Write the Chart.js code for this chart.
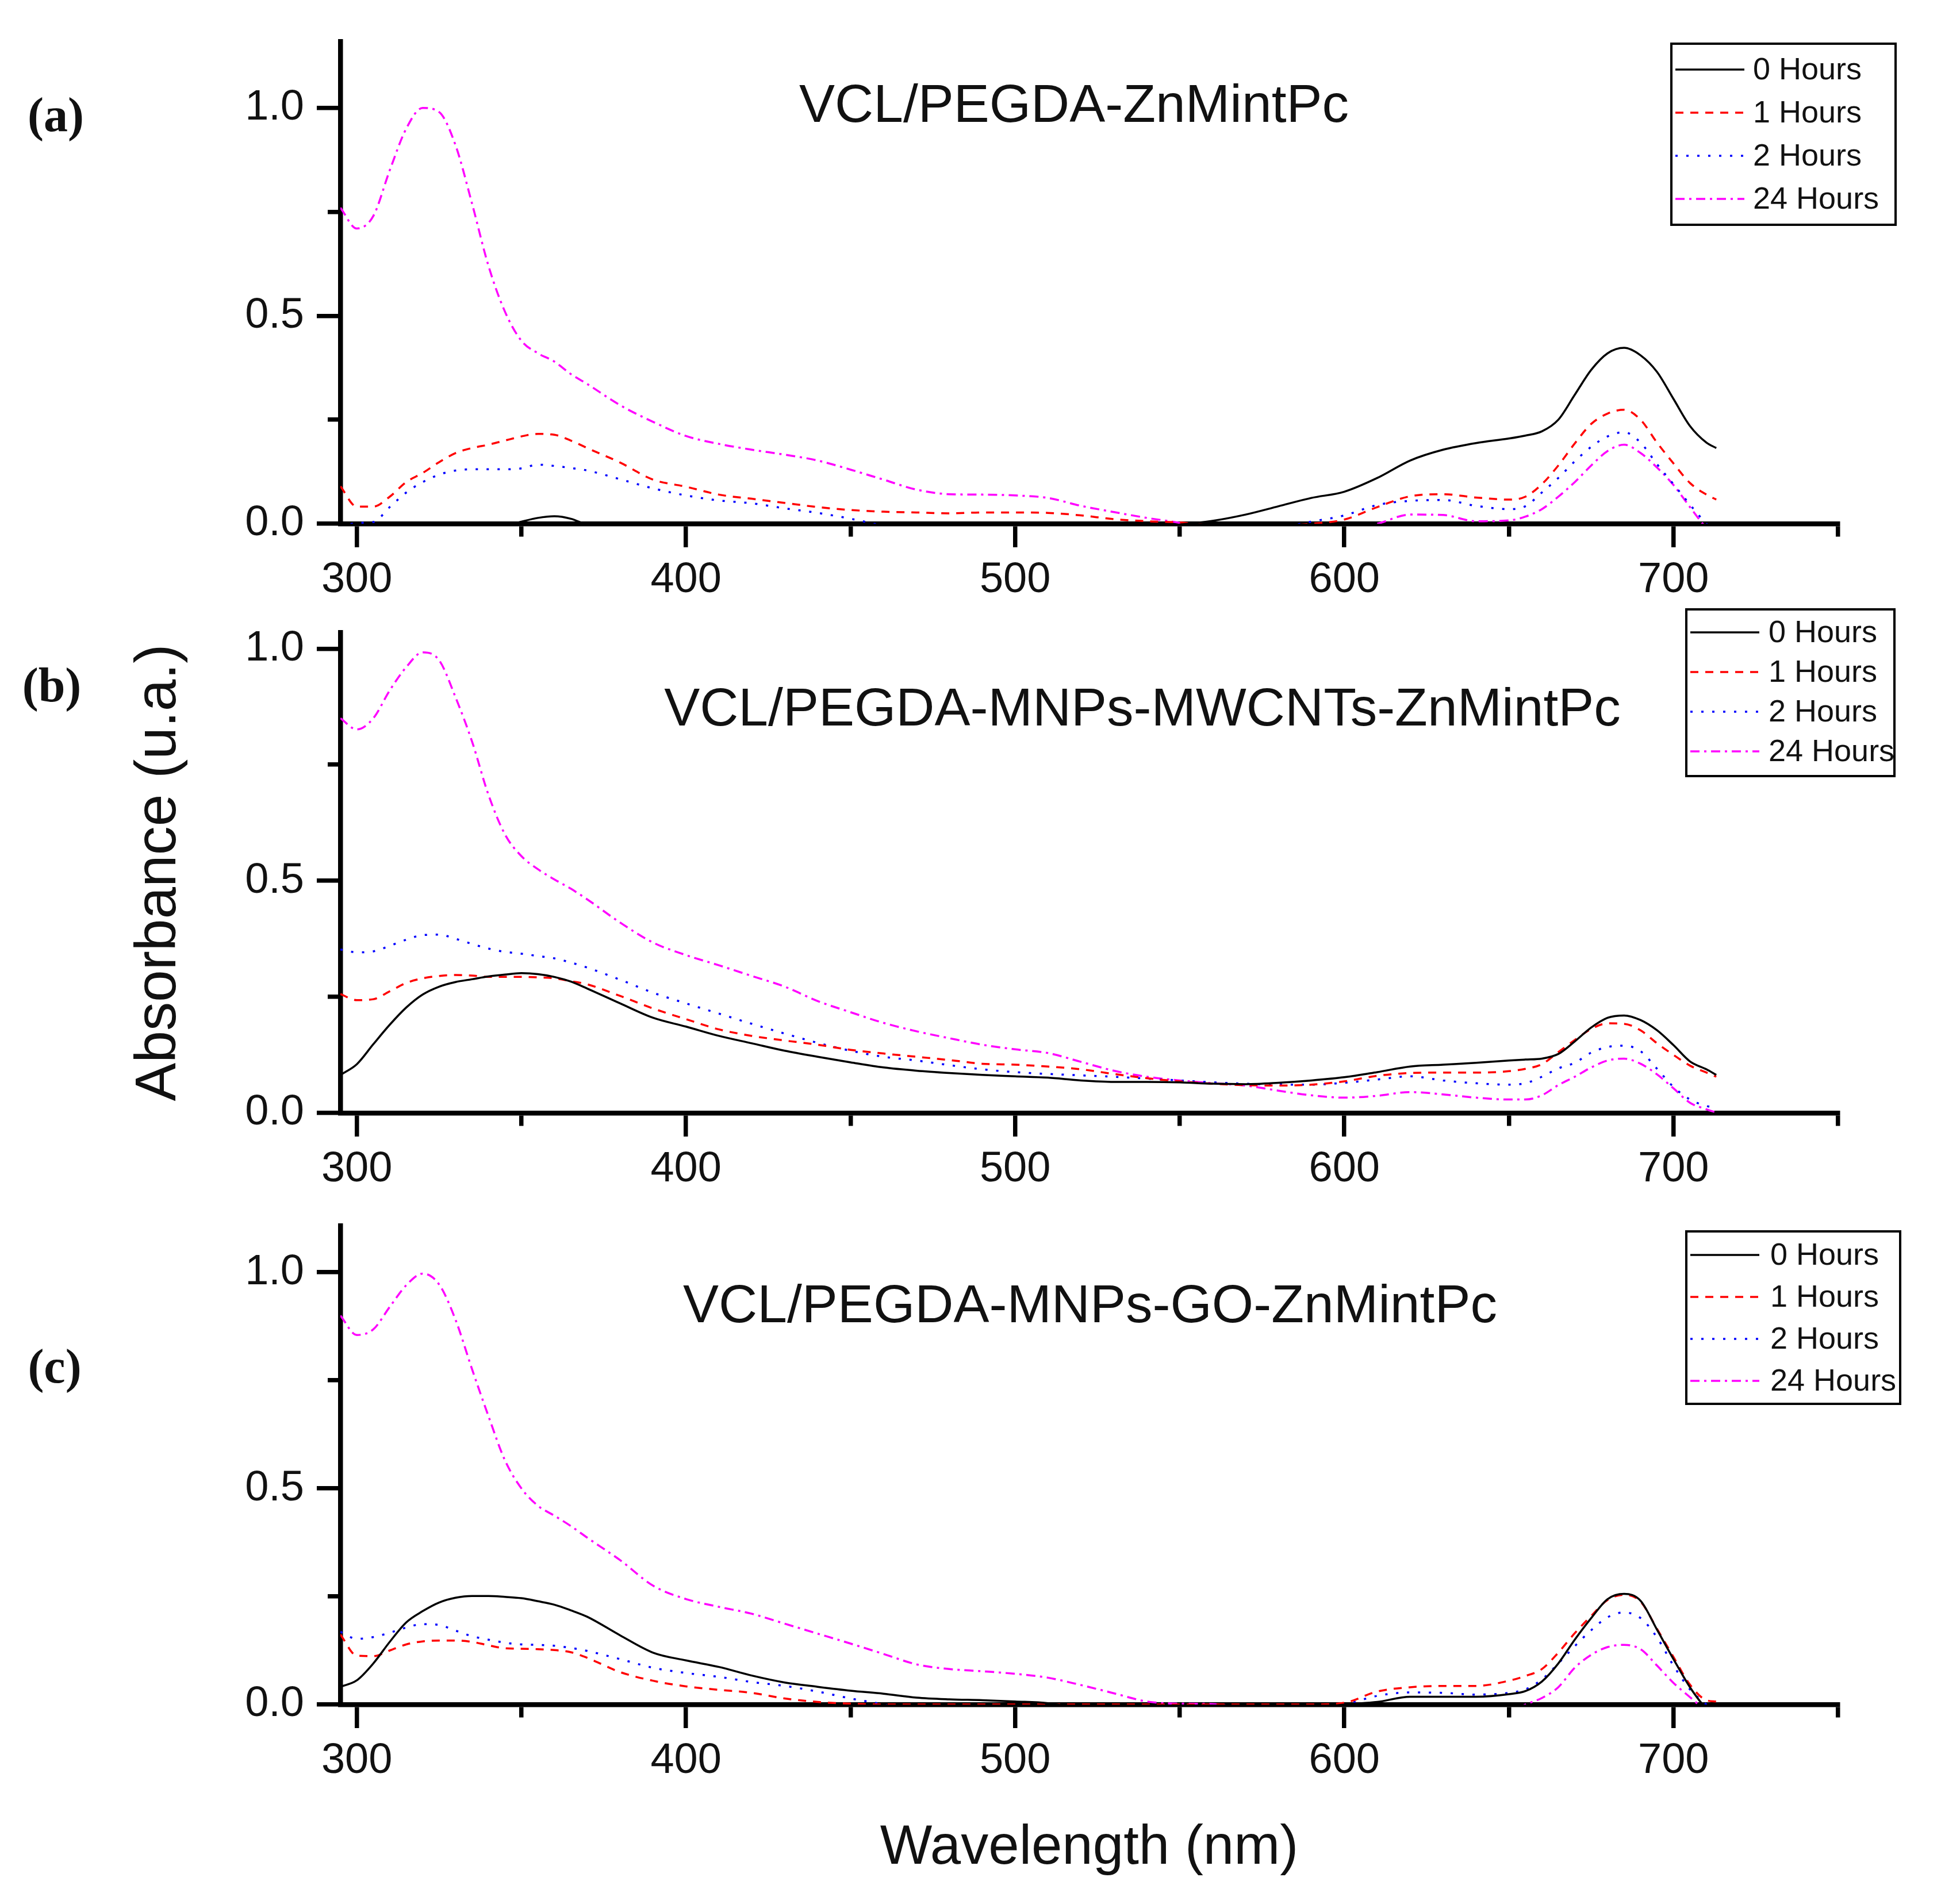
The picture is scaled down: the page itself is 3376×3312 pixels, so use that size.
<!DOCTYPE html>
<html>
<head>
<meta charset="utf-8">
<title>Absorbance spectra</title>
<script src="https://cdn.jsdelivr.net/npm/chart.js@4.4.1/dist/chart.umd.min.js"></script>
<style>
  html, body { margin: 0; padding: 0; background: #fff; }
  #page { position: relative; width: 3376px; height: 3312px; background: #fff; overflow: hidden; }
  #page canvas { position: absolute; left: 0; }
</style>
</head>
<body>
<div id="page">
  <canvas id="chartA" width="3376" height="1045" style="top:0px;width:3376px;height:1045px"></canvas>
  <canvas id="chartB" width="3376" height="1130" style="top:1000px;width:3376px;height:1130px"></canvas>
  <canvas id="chartC" width="3376" height="1272" style="top:2040px;width:3376px;height:1272px"></canvas>
</div>
<script>
// wavelength grid (nm) shared by every series
const wavelength = [295, 300, 305, 310, 315, 320, 325, 330, 335, 340, 345, 350, 355, 360, 365, 370,
  380, 390, 400, 410, 420, 430, 440, 450, 460, 470, 480, 490, 500, 510, 520, 530, 540, 550, 560, 570, 580, 590, 600, 610, 620, 630, 640, 650,
  655, 660, 665, 670, 675, 680, 685, 690, 695, 700, 705, 710, 713];

const seriesLabels = ['0 Hours', '1 Hours', '2 Hours', '24 Hours'];
const xTickValues = [300, 350, 400, 450, 500, 550, 600, 650, 700, 750];
const yTickValues = [0, 0.25, 0.5, 0.75, 1.0];

// (a) VCL/PEGDA-ZnMintPc
const a0h = [-0.05, -0.04, -0.035, -0.03, -0.03, -0.025, -0.02, -0.02, -0.015, -0.01, -0.005, 0.005, 0.014, 0.018, 0.012, -0.003,
  -0.02, -0.02, -0.02, -0.02, -0.02, -0.02, -0.02, -0.02, -0.02, -0.02, -0.02, -0.02, -0.02, -0.02, -0.02, -0.015, -0.008, -0.002, 0.007, 0.022, 0.042, 0.062, 0.077, 0.11, 0.152, 0.178, 0.194, 0.205,
  0.212, 0.222, 0.25, 0.31, 0.37, 0.41, 0.423, 0.405, 0.365, 0.3, 0.235, 0.195, 0.182];
const a1h = [0.09, 0.041, 0.041, 0.065, 0.10, 0.122, 0.148, 0.17, 0.182, 0.19, 0.2, 0.21, 0.216, 0.214, 0.2, 0.182,
  0.147, 0.106, 0.089, 0.07, 0.06, 0.05, 0.04, 0.033, 0.029, 0.027, 0.025, 0.027, 0.027, 0.026, 0.02, 0.011, 0.006, 0.003, -0.004, -0.005, -0.005, 0.0, 0.01, 0.04, 0.066, 0.071, 0.063, 0.058,
  0.065, 0.095, 0.14, 0.193, 0.24, 0.265, 0.274, 0.25, 0.195, 0.145, 0.098, 0.07, 0.058];
const a2h = [-0.01, 0.002, 0.004, 0.04, 0.075, 0.1, 0.118, 0.128, 0.131, 0.131, 0.131, 0.133, 0.142, 0.139, 0.134, 0.128,
  0.107, 0.085, 0.068, 0.056, 0.049, 0.037, 0.026, 0.012, -0.005, -0.02, -0.02, -0.02, -0.02, -0.02, -0.02, -0.02, -0.02, -0.02, -0.02, -0.02, -0.01, 0.005, 0.02, 0.045, 0.055, 0.057, 0.043, 0.035,
  0.042, 0.075, 0.11, 0.15, 0.185, 0.21, 0.22, 0.195, 0.143, 0.095, 0.046, 0.0, -0.02];
const a24h = [0.76, 0.71, 0.74, 0.85, 0.95, 1.0, 0.99, 0.91, 0.77, 0.62, 0.51, 0.44, 0.41, 0.39, 0.36, 0.336,
  0.285, 0.245, 0.211, 0.192, 0.178, 0.166, 0.152, 0.13, 0.106, 0.082, 0.071, 0.07, 0.068, 0.062, 0.043, 0.028, 0.014, 0.002, -0.015, -0.02, -0.02, -0.02, -0.015, 0.0, 0.022, 0.021, 0.006, 0.008,
  0.017, 0.035, 0.065, 0.10, 0.14, 0.175, 0.19, 0.17, 0.135, 0.093, 0.04, -0.01, -0.03];

// (b) VCL/PEGDA-MNPs-MWCNTs-ZnMintPc
const b0h = [0.082, 0.105, 0.148, 0.19, 0.227, 0.255, 0.272, 0.282, 0.288, 0.294, 0.298, 0.301, 0.299, 0.293, 0.283, 0.268,
  0.236, 0.205, 0.186, 0.166, 0.15, 0.134, 0.121, 0.109, 0.098, 0.091, 0.086, 0.082, 0.079, 0.076, 0.07, 0.067, 0.067, 0.066, 0.063, 0.062, 0.065, 0.07, 0.077, 0.088, 0.1, 0.104, 0.108, 0.113,
  0.115, 0.117, 0.127, 0.154, 0.184, 0.205, 0.21, 0.2, 0.178, 0.146, 0.111, 0.094, 0.082];
const b1h = [0.256, 0.243, 0.245, 0.262, 0.28, 0.29, 0.295, 0.297, 0.296, 0.293, 0.293, 0.293, 0.292, 0.29, 0.284, 0.277,
  0.252, 0.225, 0.202, 0.18, 0.166, 0.156, 0.147, 0.136, 0.128, 0.121, 0.114, 0.106, 0.104, 0.1, 0.094, 0.084, 0.075, 0.068, 0.063, 0.06, 0.059, 0.061, 0.068, 0.08, 0.086, 0.087, 0.087, 0.09,
  0.095, 0.105, 0.131, 0.157, 0.181, 0.193, 0.192, 0.178, 0.15, 0.125, 0.102, 0.087, 0.078];
const b2h = [0.352, 0.346, 0.348, 0.36, 0.373, 0.383, 0.384, 0.375, 0.364, 0.354, 0.347, 0.343, 0.338, 0.333, 0.324, 0.313,
  0.287, 0.259, 0.236, 0.214, 0.192, 0.171, 0.151, 0.134, 0.121, 0.113, 0.103, 0.094, 0.088, 0.084, 0.081, 0.078, 0.074, 0.07, 0.066, 0.063, 0.061, 0.061, 0.065, 0.072, 0.079, 0.07, 0.064, 0.061,
  0.064, 0.078, 0.096, 0.108, 0.13, 0.142, 0.145, 0.133, 0.095, 0.056, 0.029, 0.015, 0.011];
const b24h = [0.85, 0.826, 0.85, 0.91, 0.96, 0.992, 0.975, 0.895, 0.8, 0.685, 0.6, 0.553, 0.525, 0.503, 0.483, 0.46,
  0.41, 0.367, 0.34, 0.318, 0.295, 0.272, 0.241, 0.217, 0.194, 0.176, 0.161, 0.147, 0.137, 0.129, 0.11, 0.091, 0.078, 0.07, 0.064, 0.059, 0.048, 0.038, 0.033, 0.037, 0.045, 0.04, 0.033, 0.029,
  0.029, 0.038, 0.06, 0.078, 0.098, 0.113, 0.117, 0.106, 0.083, 0.053, 0.022, 0.008, 0.001];

// (c) VCL/PEGDA-MNPs-GO-ZnMintPc
const c0h = [0.041, 0.056, 0.095, 0.145, 0.19, 0.216, 0.236, 0.247, 0.251, 0.251, 0.249, 0.246, 0.239, 0.231, 0.218, 0.203,
  0.16, 0.12, 0.102, 0.087, 0.067, 0.051, 0.041, 0.032, 0.025, 0.016, 0.012, 0.01, 0.007, 0.003, -0.01, -0.02, -0.02, -0.02, -0.02, -0.02, -0.02, -0.01, 0.0, 0.006, 0.018, 0.018, 0.018, 0.024,
  0.031, 0.053, 0.095, 0.15, 0.2, 0.244, 0.256, 0.24, 0.173, 0.105, 0.04, -0.01, -0.03];
const c1h = [0.162, 0.113, 0.112, 0.125, 0.139, 0.146, 0.148, 0.148, 0.145, 0.137, 0.13, 0.129, 0.128, 0.126, 0.121, 0.108,
  0.075, 0.055, 0.042, 0.034, 0.027, 0.014, 0.006, 0.002, 0.0, 0.0, 0.0, 0.0, 0.0, 0.0, 0.0, 0.0, 0.0, 0.0, 0.0, 0.0, 0.0, 0.0, 0.004, 0.03, 0.04, 0.043, 0.043, 0.055,
  0.066, 0.082, 0.12, 0.165, 0.205, 0.242, 0.254, 0.238, 0.175, 0.11, 0.046, 0.01, 0.007];
const c2h = [0.168, 0.152, 0.156, 0.166, 0.178, 0.186, 0.184, 0.171, 0.158, 0.15, 0.143, 0.139, 0.138, 0.136, 0.131, 0.124,
  0.105, 0.085, 0.073, 0.064, 0.052, 0.043, 0.03, 0.014, 0.0, -0.02, -0.02, -0.02, -0.02, -0.02, -0.02, -0.02, -0.02, -0.02, -0.02, -0.02, -0.02, -0.01, 0.0, 0.02, 0.028, 0.027, 0.023, 0.027,
  0.035, 0.058, 0.095, 0.135, 0.172, 0.202, 0.213, 0.2, 0.155, 0.09, 0.035, 0.0, -0.02];
const c24h = [0.9, 0.855, 0.868, 0.92, 0.97, 0.997, 0.972, 0.89, 0.776, 0.667, 0.565, 0.5, 0.46, 0.437, 0.413, 0.386,
  0.334, 0.275, 0.244, 0.226, 0.21, 0.187, 0.164, 0.141, 0.117, 0.093, 0.082, 0.077, 0.071, 0.062, 0.045, 0.026, 0.007, 0.002, 0.001, -0.01, -0.02, -0.02, -0.02, -0.02, -0.02, -0.02, -0.02, -0.02,
  0.0, 0.015, 0.04, 0.085, 0.115, 0.133, 0.138, 0.128, 0.09, 0.05, 0.017, -0.015, -0.03];

// line look per series (Origin-like)
const lineStyles = [
  { color: '#000000', dash: [] },
  { color: '#ff0000', dash: [14, 12] },
  { color: '#0000ff', dash: [4, 15] },
  { color: '#ff00ff', dash: [16, 8, 4, 8] }
];

const SANS = '"Liberation Sans", Arial, sans-serif';
const CANVAS_W = 3376;
const PLOT_LEFT = 592;
const PLOT_RIGHT = 3197;

// page layout of the three panels (page pixels); canvases overlap, they are transparent
const panels = [
  {
    id: 'chartA', top: 0, height: 1045, plotTop: 72, plotBottom: 911, yMax: 1.16,
    title: 'VCL/PEGDA-ZnMintPc', titleX: 1868, titleY: 212,
    tag: '(a)', tagX: 97, tagY: 228,
    legend: { x: 2907, y: 76, w: 390, h: 315, first: 45, gap: 75, textX: 142 },
    values: [a0h, a1h, a2h, a24h]
  },
  {
    id: 'chartB', top: 1000, height: 1130, plotTop: 1100, plotBottom: 1936, yMax: 1.035,
    title: 'VCL/PEGDA-MNPs-MWCNTs-ZnMintPc', titleX: 1987, titleY: 1262,
    tag: '(b)', tagX: 90, tagY: 1220,
    legend: { x: 2933, y: 1060, w: 362, h: 290, first: 40, gap: 69, textX: 143 },
    values: [b0h, b1h, b2h, b24h],
    yTitle: 'Absorbance (u.a.)'
  },
  {
    id: 'chartC', top: 2040, height: 1272, plotTop: 2132, plotBottom: 2965, yMax: 1.108,
    title: 'VCL/PEGDA-MNPs-GO-ZnMintPc', titleX: 1896, titleY: 2300,
    tag: '(c)', tagX: 95, tagY: 2405,
    legend: { x: 2933, y: 2142, w: 372, h: 300, first: 41, gap: 73, textX: 146 },
    values: [c0h, c1h, c2h, c24h],
    xTitle: 'Wavelength (nm)'
  }
];

// title inside the frame, panel letter and the boxed legend
const panelDecor = {
  id: 'panelDecor',
  afterDraw(chart, args, opts) {
    const ctx = chart.ctx;
    const dy = opts.offset;
    ctx.save();
    ctx.fillStyle = '#111';
    ctx.textAlign = 'center';
    ctx.textBaseline = 'alphabetic';
    ctx.font = '93px ' + SANS;
    ctx.fillText(opts.title, opts.titleX, opts.titleY - dy);

    ctx.font = 'bold 84px "Liberation Serif", "Times New Roman", serif';
    ctx.fillText(opts.tag, opts.tagX, opts.tagY - dy);

    const L = opts.legend;
    ctx.setLineDash([]);
    ctx.lineWidth = 4;
    ctx.strokeStyle = '#000';
    ctx.strokeRect(L.x, L.y - dy, L.w, L.h);
    chart.data.datasets.forEach((ds, i) => {
      const y = L.y - dy + L.first + i * L.gap;
      ctx.setLineDash(ds.borderDash);
      ctx.strokeStyle = ds.borderColor;
      ctx.lineWidth = ds.borderWidth;
      ctx.beginPath();
      ctx.moveTo(L.x + 7, y);
      ctx.lineTo(L.x + 127, y);
      ctx.stroke();
      ctx.setLineDash([]);
      ctx.fillStyle = '#111';
      ctx.textAlign = 'left';
      ctx.textBaseline = 'middle';
      ctx.font = '54px ' + SANS;
      ctx.fillText(ds.label, L.x + L.textX, y + 2);
    });
    ctx.restore();
  }
};

function isMultiple(v, step) {
  return Math.abs(v / step - Math.round(v / step)) < 1e-6;
}

function buildChart(p) {
  const datasets = p.values.map((vals, i) => ({
    label: seriesLabels[i],
    data: wavelength.map((w, k) => ({ x: w, y: vals[k] })),
    borderColor: lineStyles[i].color,
    borderDash: lineStyles[i].dash,
    borderWidth: 3.5,
    pointRadius: 0,
    fill: false,
    cubicInterpolationMode: 'monotone',
    clip: 0
  }));

  const xHeight = p.top + p.height - p.plotBottom;

  return new Chart(document.getElementById(p.id), {
    type: 'line',
    data: { datasets },
    plugins: [panelDecor],
    options: {
      responsive: false,
      animation: false,
      devicePixelRatio: 1,
      events: [],
      layout: { padding: { top: p.plotTop - p.top, right: CANVAS_W - PLOT_RIGHT, bottom: 0, left: 0 } },
      plugins: {
        legend: { display: false },
        tooltip: { enabled: false },
        panelDecor: {
          offset: p.top, title: p.title, titleX: p.titleX, titleY: p.titleY,
          tag: p.tag, tagX: p.tagX, tagY: p.tagY, legend: p.legend
        }
      },
      scales: {
        x: {
          type: 'linear',
          min: 295,
          max: 750,
          afterBuildTicks: s => { s.ticks = xTickValues.map(v => ({ value: v })); },
          afterFit: s => { s.height = xHeight; },
          border: { display: true, color: '#000', width: 8.5 },
          grid: {
            drawOnChartArea: false,
            drawTicks: true,
            tickLength: 41,
            lineWidth: 7.5,
            tickWidth: 7.5,
            tickColor: '#000',
            tickBorderDash: c => (c.tick && isMultiple(c.tick.value, 100)) ? [] : [18, 200]
          },
          ticks: {
            autoSkip: false,
            maxRotation: 0,
            minRotation: 0,
            padding: 13,
            color: '#111',
            font: { family: SANS, size: 74 },
            callback: v => isMultiple(v, 100) ? String(v) : ''
          },
          title: {
            display: !!p.xTitle,
            text: p.xTitle || '',
            color: '#111',
            font: { family: SANS, size: 96 },
            padding: { top: 0, bottom: 39 }
          }
        },
        y: {
          type: 'linear',
          min: 0,
          max: p.yMax,
          afterBuildTicks: s => { s.ticks = yTickValues.filter(v => v <= p.yMax).map(v => ({ value: v })); },
          afterFit: s => { s.width = PLOT_LEFT; },
          border: { display: true, color: '#000', width: 8.5 },
          grid: {
            drawOnChartArea: false,
            drawTicks: true,
            tickLength: 41,
            lineWidth: 7.5,
            tickWidth: 7.5,
            tickColor: '#000',
            tickBorderDash: c => (c.tick && isMultiple(c.tick.value, 0.5)) ? [] : [0, 19, 40]
          },
          ticks: {
            autoSkip: false,
            padding: 22,
            color: '#111',
            font: { family: SANS, size: 74 },
            callback: v => isMultiple(v, 0.5) ? v.toFixed(1) : ''
          },
          title: {
            display: !!p.yTitle,
            text: p.yTitle || '',
            color: '#111',
            font: { family: SANS, size: 100 },
            padding: { top: 217, bottom: 0 }
          }
        }
      }
    }
  });
}

panels.forEach(buildChart);
</script>
</body>
</html>
